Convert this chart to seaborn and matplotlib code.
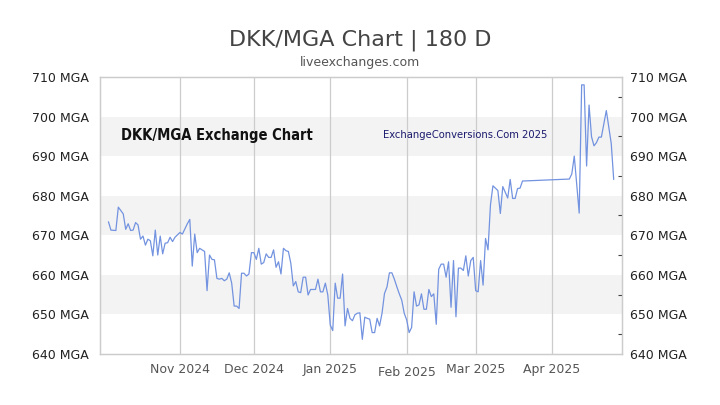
import matplotlib
matplotlib.use("Agg")
import matplotlib.pyplot as plt
import matplotlib.dates as mdates
from matplotlib import font_manager
from matplotlib.ticker import FixedLocator, FuncFormatter
from matplotlib.transforms import ScaledTranslation
import pandas as pd
import seaborn as sns

# data: day offset from 1 Nov 2024 and DKK/MGA rate
start = "2024-11-01"
day_offset = [-29, -28, -26, -25, -23, -22, -21, -20, -19, -18, -17, -16, -15, -14, -13, -12,
              -11, -10, -9, -8, -7, -6, -5, -4, -3, -2, 0, 1, 3, 4, 5, 6, 7, 8, 10, 11, 12,
              13, 14, 15, 16, 17, 18, 19, 20, 21, 22, 23, 24, 25, 26, 27, 28, 29, 30, 31, 32,
              33, 34, 35, 36, 37, 38, 39, 40, 41, 42, 43, 44, 45, 46, 47, 48, 49, 50, 51, 52,
              53, 55, 56, 57, 58, 59, 60, 61, 62, 63, 64, 65, 66, 67, 68, 69, 70, 71, 72, 73,
              74, 75, 76, 77, 78, 79, 80, 81, 82, 83, 84, 85, 86, 87, 88, 89, 90, 91, 92, 93,
              94, 95, 96, 97, 98, 99, 100, 101, 102, 103, 104, 105, 106, 107, 108, 109, 110,
              111, 112, 113, 114, 115, 116, 117, 118, 119, 120, 121, 122, 123, 124, 125, 126,
              127, 128, 129, 130, 131, 133, 134, 135, 136, 137, 138, 139, 158, 159, 160, 162,
              163, 164, 165, 166, 167, 168, 169, 170, 171, 173, 175, 176]
rate = [673.4, 671.3, 671.2, 677.1, 675.4, 671.5, 672.9, 671.2, 671.3, 673.2, 672.6, 669.0,
        669.8, 667.5, 669.0, 668.6, 664.8, 671.3, 665.0, 669.8, 665.3, 668.0, 668.1, 669.5,
        668.4, 669.5, 670.7, 670.3, 672.9, 674.0, 662.2, 670.3, 665.6, 666.7, 665.9, 656.0,
        665.0, 663.9, 663.8, 659.1, 658.9, 659.1, 658.5, 658.9, 660.5, 657.9, 652.1, 652.1,
        651.5, 660.4, 660.4, 659.7, 660.2, 665.6, 665.6, 663.9, 666.7, 662.7, 663.1, 665.3,
        664.4, 664.4, 666.3, 661.9, 663.3, 660.2, 666.7, 666.1, 665.9, 662.9, 657.2, 658.3,
        655.7, 655.5, 659.4, 659.4, 654.9, 656.3, 656.3, 658.9, 655.7, 655.7, 657.9, 654.9,
        647.3, 645.9, 657.9, 654.1, 654.1, 660.2, 647.1, 651.5, 649.0, 648.4, 649.9, 650.3,
        650.4, 643.7, 649.3, 649.0, 648.8, 645.4, 645.4, 649.0, 647.1, 650.3, 655.3, 656.9,
        660.5, 660.5, 658.9, 657.0, 655.2, 653.6, 650.3, 648.6, 645.4, 646.7, 655.7, 652.1,
        652.4, 655.2, 651.3, 651.3, 656.3, 654.5, 655.2, 647.5, 661.4, 662.7, 662.7, 659.4,
        663.3, 651.8, 663.6, 649.4, 661.7, 661.7, 661.1, 664.8, 659.7, 663.6, 664.4, 656.0,
        655.7, 663.6, 657.4, 669.2, 666.3, 677.7, 682.5, 681.9, 681.3, 675.5, 682.3, 679.4,
        684.1, 679.3, 679.3, 681.8, 681.9, 683.7, 684.2, 685.5, 690.0, 675.6, 708.0, 708.0,
        687.5, 702.9, 694.9, 692.6, 693.4, 694.8, 694.8, 701.5, 693.2, 684.1]

month_ticks = ["2024-11-01", "2024-12-01", "2025-01-01", "2025-02-01", "2025-03-01", "2025-04-01"]
rate_ticks = [640, 650, 660, 670, 680, 690, 700, 710]
shaded_bands = [(650, 660), (670, 680), (690, 700)]

df = pd.DataFrame({
    "date": pd.to_datetime(start) + pd.to_timedelta(day_offset, unit="D"),
    "rate": rate,
})

sns.set_style("white")
plt.rcParams["font.family"] = ["DejaVu Sans"]

# look for a condensed face for the two watermark labels
narrow = None
for f in font_manager.fontManager.ttflist:
    st = str(f.stretch).lower()
    if "condensed" in st or "narrow" in f.name.lower() or "condensed" in f.name.lower():
        narrow = (f.name, f.stretch if "condensed" in st else "normal")
        if f.name.startswith("DejaVu Sans") and "condensed" in st:
            break

if narrow:
    label_kw = dict(family=narrow[0], fontstretch=narrow[1])
    big_size, small_size = 10.5, 8
else:
    label_kw = dict(family=["Liberation Sans", "DejaVu Sans"])
    big_size, small_size = 9.5, 7.5

fig = plt.figure(figsize=(7.2, 4.05), dpi=100)
ax = fig.add_axes([0.139, 0.126, 0.725, 0.684])

for lo, hi in shaded_bands:
    ax.axhspan(lo, hi, color="#f3f3f3", zorder=0, lw=0)

for m in month_ticks:
    ax.axvline(pd.to_datetime(m), color="#cccccc", lw=0.9, zorder=1)

sns.lineplot(data=df, x="date", y="rate", ax=ax, color="#7393e0", lw=0.9, zorder=3)

t0 = pd.to_datetime(start)
ax.set_xlim(t0 - pd.Timedelta(days=32.4), t0 + pd.Timedelta(days=179.4))
ax.set_ylim(640, 710)

ax.set_xticks(pd.to_datetime(month_ticks))
ax.xaxis.set_major_formatter(mdates.DateFormatter("%b %Y"))
ax.set_yticks(rate_ticks)
ax.yaxis.set_major_formatter(FuncFormatter(lambda v, p: f"{v:.0f} MGA"))
ax.tick_params(axis="x", length=0, pad=6.5, labelsize=9, labelcolor="#555555")
ax.tick_params(axis="y", length=0, pad=8, labelsize=9, labelcolor="#222222")
ax.set_xlabel("")
ax.set_ylabel("")

# the Feb label sits a little lower in the original
fig.canvas.draw()
for lbl in ax.get_xticklabels():
    if lbl.get_text().startswith("Feb"):
        lbl.set_transform(lbl.get_transform() + ScaledTranslation(0, -3 / 100, fig.dpi_scale_trans))

ax2 = ax.twinx()
ax2.set_ylim(640, 710)
ax2.set_yticks(rate_ticks)
ax2.yaxis.set_major_formatter(FuncFormatter(lambda v, p: f"{v:.0f} MGA"))
ax2.yaxis.set_minor_locator(FixedLocator(range(640, 711, 5)))
ax2.tick_params(axis="y", which="major", length=0, pad=6, labelsize=9, labelcolor="#222222")
ax2.tick_params(axis="y", which="minor", length=3, direction="in", color="#444444", width=0.8)

for a in (ax, ax2):
    for s in a.spines.values():
        s.set_color("#cccccc")
        s.set_linewidth(0.9)

ax.text(0.04, 0.79, "DKK/MGA Exchange Chart", transform=ax.transAxes,
        fontsize=big_size, fontweight="bold", color="#111111", va="center", ha="left", **label_kw)
ax.text(0.542, 0.79, "ExchangeConversions.Com 2025", transform=ax.transAxes,
        fontsize=small_size, color="#1a1a6e", va="center", ha="left", **label_kw)

fig.text(0.5, 0.9, "DKK/MGA Chart | 180 D", ha="center", va="center", fontsize=16, color="#444444")
fig.text(0.5, 0.845, "liveexchanges.com", ha="center", va="center", fontsize=9, color="#555555")

fig.savefig("out.png", dpi=100)
